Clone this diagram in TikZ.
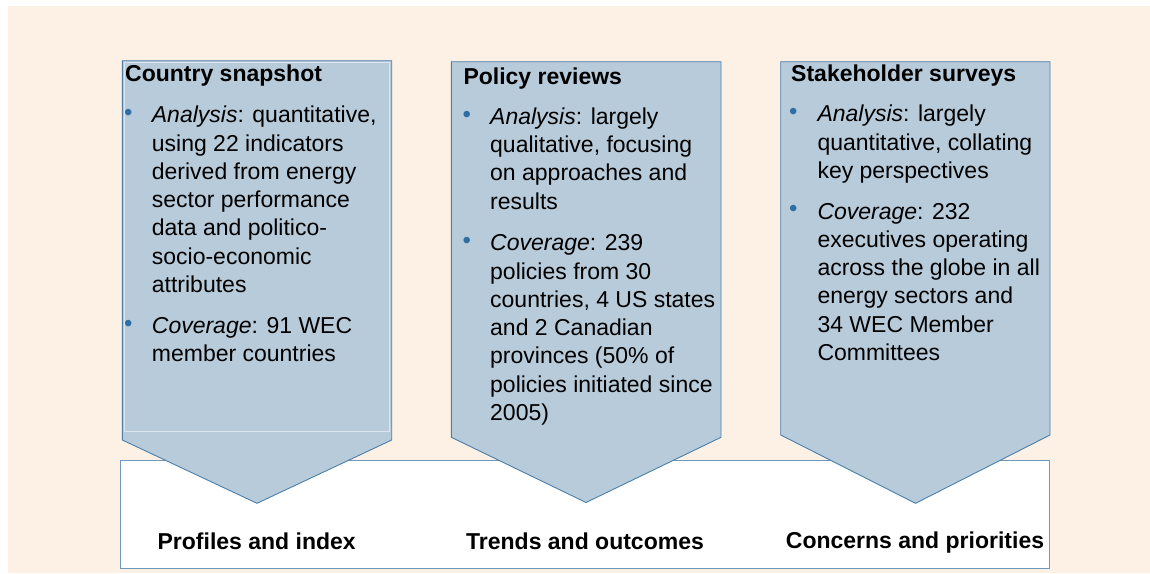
\documentclass[tikz,border=0pt]{standalone}
\usepackage{fontspec}
\setmainfont{Liberation Sans}
\definecolor{bgbeige}{HTML}{FDF1E5}
\definecolor{arrowfill}{HTML}{B8CBDA}
\definecolor{arrowline}{HTML}{4A7FAB}
\definecolor{boxline}{HTML}{6E98BE}
\definecolor{bulletblue}{HTML}{2F6EA5}
\definecolor{innerline}{HTML}{DCE5EE}
\begin{document}
\begin{tikzpicture}[x=1pt,y=-1pt,
  chevronshape/.style={fill=arrowfill,draw=arrowline,line width=0.9pt,line join=miter},
  headtext/.style={anchor=base west,inner sep=0pt,font=\fontsize{23}{28}\selectfont\bfseries},
  bodytext/.style={anchor=base west,inner sep=0pt,font=\fontsize{23}{28.3}\selectfont},
  bulletmark/.style={inner sep=0pt,text=bulletblue,font=\fontsize{24}{24}\selectfont},
  bottomtext/.style={anchor=base,inner sep=0pt,font=\fontsize{23}{28}\selectfont\bfseries}
]
\useasboundingbox (0,0) rectangle (1150,573);
\fill[white] (0,0) rectangle (1150,573);
\fill[bgbeige] (8,6) rectangle (1150,573);
% output band
\draw[fill=white,draw=boxline,line width=0.9pt] (120.7,460.7) rectangle (1049.3,568.3);
% chevrons
\draw[chevronshape] (122.3,60.7) -- (391.7,60.7) -- (391.7,440) -- (257,503.3) -- (122.3,440) -- cycle;
\draw[innerline,line width=0.8pt] (124.5,62.5) rectangle (389.8,431.7);
\draw[chevronshape] (451.3,61.7) -- (721,61.7) -- (721,437.3) -- (586,502.5) -- (451.3,437.3) -- cycle;
\draw[chevronshape] (780.7,61.7) -- (1050,61.7) -- (1050,435) -- (915.5,503.3) -- (780.7,435) -- cycle;

% panel 1
\node[headtext] (h1) at (125,81.7) {Country snapshot};
\node[bulletmark] (b1a) at (128.3,115) {•};
\node[bodytext] (t1a) at (151.7,122.7) {\parbox[t]{250pt}{\raggedright\textit{Analysis}: quantitative,\\using 22 indicators\\derived from energy\\sector performance\\data and politico-\\socio-economic\\attributes}};
\node[bulletmark] (b1b) at (128.3,325.5) {•};
\node[bodytext] (t1b) at (151.7,333.2) {\parbox[t]{250pt}{\raggedright\textit{Coverage}: 91 WEC\\member countries}};

% panel 2
\node[headtext] (h2) at (463.3,84.3) {Policy reviews};
\node[bulletmark] (b2a) at (466.7,116.7) {•};
\node[bodytext] (t2a) at (490,124.3) {\parbox[t]{250pt}{\raggedright\textit{Analysis}: largely\\qualitative, focusing\\on approaches and\\results}};
\node[bulletmark] (b2b) at (466.7,243) {•};
\node[bodytext] (t2b) at (490,250.7) {\parbox[t]{250pt}{\raggedright\textit{Coverage}: 239\\policies from 30\\countries, 4 US states\\and 2 Canadian\\provinces (50\% of\\policies initiated since\\2005)}};

% panel 3
\node[headtext] (h3) at (791,81.7) {Stakeholder surveys};
\node[bulletmark] (b3a) at (793.3,114) {•};
\node[bodytext] (t3a) at (817.3,121.7) {\parbox[t]{250pt}{\raggedright\textit{Analysis}: largely\\quantitative, collating\\key perspectives}};
\node[bulletmark] (b3b) at (793.3,211.3) {•};
\node[bodytext] (t3b) at (817.3,219) {\parbox[t]{250pt}{\raggedright\textit{Coverage}: 232\\executives operating\\across the globe in all\\energy sectors and\\34 WEC Member\\Committees}};

% outputs
\node[bottomtext] (o1) at (256.7,549.3) {Profiles and index};
\node[bottomtext] (o2) at (585,549) {Trends and outcomes};
\node[bottomtext] (o3) at (915,548.5) {Concerns and priorities};
\end{tikzpicture}
\end{document}
